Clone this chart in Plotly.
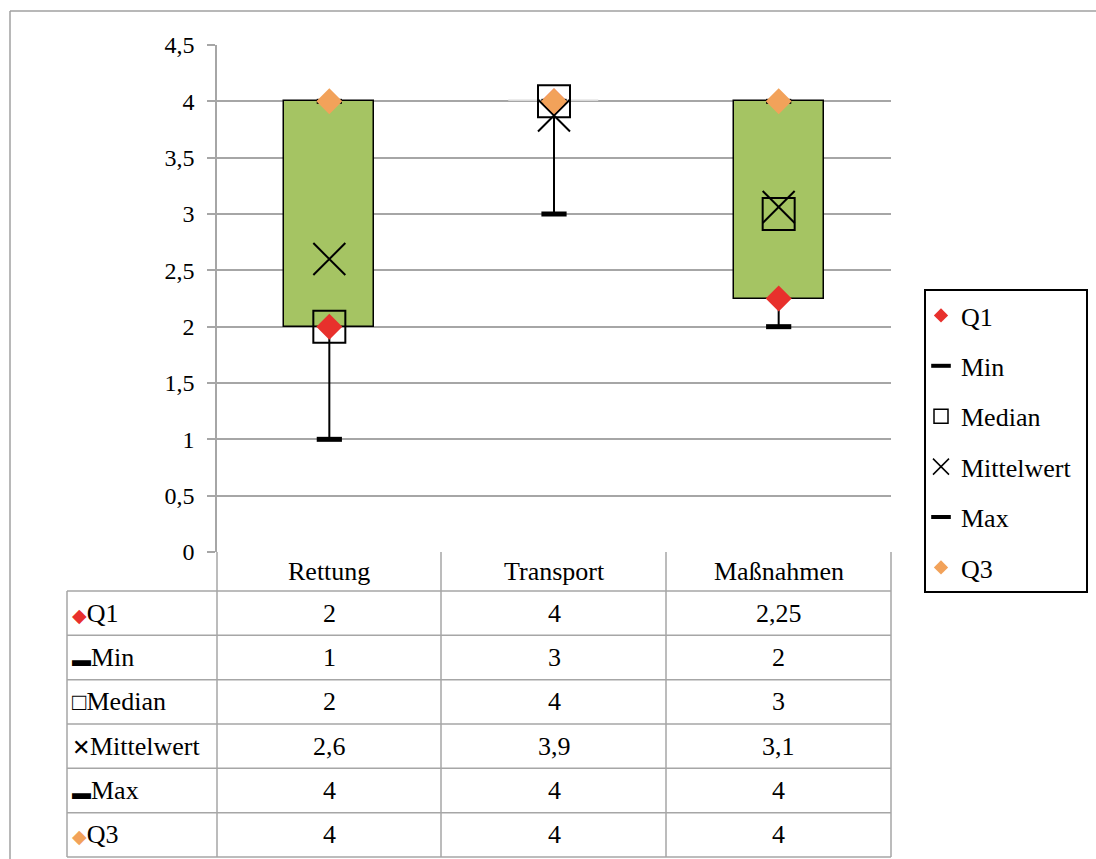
import plotly.graph_objects as go

# ---------------- data ----------------
categories = ["Rettung", "Transport", "Maßnahmen"]
q1 = [2, 4, 2.25]
vmin = [1, 3, 2]
median = [2, 4, 3]
mean = [2.6, 3.875, 3.0625]
vmax = [4, 4, 4]
q3 = [4, 4, 4]
y_ticks = [0, 0.5, 1, 1.5, 2, 2.5, 3, 3.5, 4, 4.5]
series_names = ["Q1", "Min", "Median", "Mittelwert", "Max", "Q3"]

# ---------------- layout geometry (pixels) ----------------
W, H = 1096, 859
L, R, T, B = 217, 891, 45, 552
FONT = "Liberation Serif, Times New Roman, Tinos, DejaVu Serif, serif"
GRID = "#A6A6A6"
TXT = 26


def px(x):
    return (x - L) / (R - L)


def py(y):
    return (B - y) / (B - T)


def fmt(v, nd=2):
    s = f"{round(v, nd):g}"
    return s.replace(".", ",")


fig = go.Figure()

# box (Q1..Q3)
fig.add_trace(go.Bar(
    x=categories, y=[b - a for a, b in zip(q1, q3)], base=q1, width=0.4,
    marker=dict(color="#A5C463", line=dict(color=["#000000", "#D9D9D9", "#000000"], width=1.5)),
    showlegend=False, hoverinfo="skip"))

# whiskers
wx, wy = [], []
for c, lo, a, b, hi in zip(categories, vmin, q1, q3, vmax):
    wx += [c, c, None, c, c, None]
    wy += [lo, a, None, b, hi, None]
fig.add_trace(go.Scatter(x=wx, y=wy, mode="lines", line=dict(color="black", width=2),
                         showlegend=False, hoverinfo="skip"))

styles = {
    "Q1": dict(symbol="diamond", size=20, color="#E8302C", line=dict(width=0)),
    "Min": dict(symbol="line-ew", size=18, color="black", line=dict(width=5, color="black")),
    "Median": dict(symbol="square-open", size=32, color="black", line=dict(width=2, color="black")),
    "Mittelwert": dict(symbol="x-thin-open", size=32, color="black", line=dict(width=2, color="black")),
    "Max": dict(symbol="line-ew", size=18, color="black", line=dict(width=5, color="black")),
    "Q3": dict(symbol="diamond", size=20, color="#F2A25A", line=dict(width=0)),
}
legend_styles = {
    "Q1": dict(symbol="diamond", size=11, color="#E8302C", line=dict(width=0)),
    "Min": dict(symbol="line-ew", size=14, color="black", line=dict(width=4, color="black")),
    "Median": dict(symbol="square-open", size=14, color="black", line=dict(width=1.5, color="black")),
    "Mittelwert": dict(symbol="x-thin-open", size=16, color="black", line=dict(width=1.5, color="black")),
    "Max": dict(symbol="line-ew", size=14, color="black", line=dict(width=4, color="black")),
    "Q3": dict(symbol="diamond", size=11, color="#F2A25A", line=dict(width=0)),
}
values = {"Q1": q1, "Min": vmin, "Median": median, "Mittelwert": mean, "Max": vmax, "Q3": q3}

for name in series_names:
    fig.add_trace(go.Scatter(x=categories, y=values[name], mode="markers", name=name,
                             legendgroup=name, showlegend=False, marker=styles[name]))
# legend entries (smaller symbols, like the reference legend)
for name in series_names:
    fig.add_trace(go.Scatter(x=[None], y=[None], mode="markers", name=name,
                             legendgroup=name, showlegend=True, marker=legend_styles[name]))

# ---------------- table ----------------
shapes = []
line_style = dict(color=GRID, width=1.5)
row_top = 591
row_h = (857 - 591) / 6
col_edges = [441, 666, 891]
# outer chart border
shapes.append(dict(type="line", xref="paper", yref="paper", x0=px(10), x1=px(W + 5), y0=py(11), y1=py(11),
                   line=dict(color="#A0A0A0", width=1.5)))
shapes.append(dict(type="line", xref="paper", yref="paper", x0=px(10), x1=px(10), y0=py(11), y1=py(H + 5),
                   line=dict(color="#A0A0A0", width=1.5)))
# vertical table lines
shapes.append(dict(type="line", xref="paper", yref="paper", x0=px(67), x1=px(67), y0=py(row_top), y1=py(857), line=line_style))
shapes.append(dict(type="line", xref="paper", yref="paper", x0=px(L), x1=px(L), y0=py(B), y1=py(857), line=line_style))
for xe in col_edges:
    shapes.append(dict(type="line", xref="paper", yref="paper", x0=px(xe), x1=px(xe), y0=py(B), y1=py(857), line=line_style))
# horizontal table lines
for i in range(7):
    yy = row_top + i * row_h
    shapes.append(dict(type="line", xref="paper", yref="paper", x0=px(67), x1=px(R), y0=py(yy), y1=py(yy), line=line_style))
# legend box
shapes.append(dict(type="rect", xref="paper", yref="paper", x0=px(925), x1=px(1087), y0=py(290), y1=py(592),
                   line=dict(color="black", width=2), fillcolor="rgba(0,0,0,0)"))

annotations = []
for c in categories:
    annotations.append(dict(x=c, xref="x", y=py((B + row_top) / 2), yref="paper", text=c, showarrow=False,
                            font=dict(family=FONT, size=TXT, color="black"), xanchor="center", yanchor="middle"))

glyphs = {
    "Q1": "<span style='color:#E8302C;font-size:19px'>◆</span>",
    "Min": "<span style='font-size:19px'>▬</span>",
    "Median": "<span style='font-size:24px'>□</span>",
    "Mittelwert": "<span style='font-size:22px'>✕</span>",
    "Max": "<span style='font-size:19px'>▬</span>",
    "Q3": "<span style='color:#F2A25A;font-size:19px'>◆</span>",
}
for i, name in enumerate(series_names):
    yc = py(row_top + (i + 0.5) * row_h)
    annotations.append(dict(x=px(70), xref="paper", y=yc, yref="paper", text=glyphs[name] + name, showarrow=False,
                            font=dict(family=FONT, size=TXT, color="black"), xanchor="left", yanchor="middle"))
    nd = 1 if name == "Mittelwert" else 2
    for c, v in zip(categories, values[name]):
        annotations.append(dict(x=c, xref="x", y=yc, yref="paper", text=fmt(v, nd), showarrow=False,
                                font=dict(family=FONT, size=TXT, color="black"), xanchor="center", yanchor="middle"))

fig.update_layout(
    width=W, height=H,
    margin=dict(l=L, r=W - R, t=T, b=H - B, autoexpand=False),
    paper_bgcolor="white", plot_bgcolor="white",
    separators=",.",
    font=dict(family=FONT, color="black"),
    bargap=0,
    xaxis=dict(range=[-0.5, 2.5], showticklabels=False, showgrid=False, zeroline=False, showline=False,
               ticks="", fixedrange=True),
    yaxis=dict(range=[0, 4.5], tickvals=y_ticks, showgrid=True, gridcolor=GRID, gridwidth=1.5,
               showline=True, linecolor=GRID, linewidth=1.5, ticks="outside", ticklen=8, tickcolor=GRID,
               tickwidth=1.5, zeroline=False, tickfont=dict(family=FONT, size=24, color="black"),
               ticklabelstandoff=8, fixedrange=True),
    showlegend=True,
    legend=dict(x=px(921), xanchor="left", y=py(292), yanchor="top", bgcolor="rgba(0,0,0,0)",
                borderwidth=0, traceorder="grouped", tracegroupgap=13.6, itemwidth=30,
                font=dict(family=FONT, size=TXT, color="black")),
    shapes=shapes,
    annotations=annotations,
)

fig.write_html("out.html")
